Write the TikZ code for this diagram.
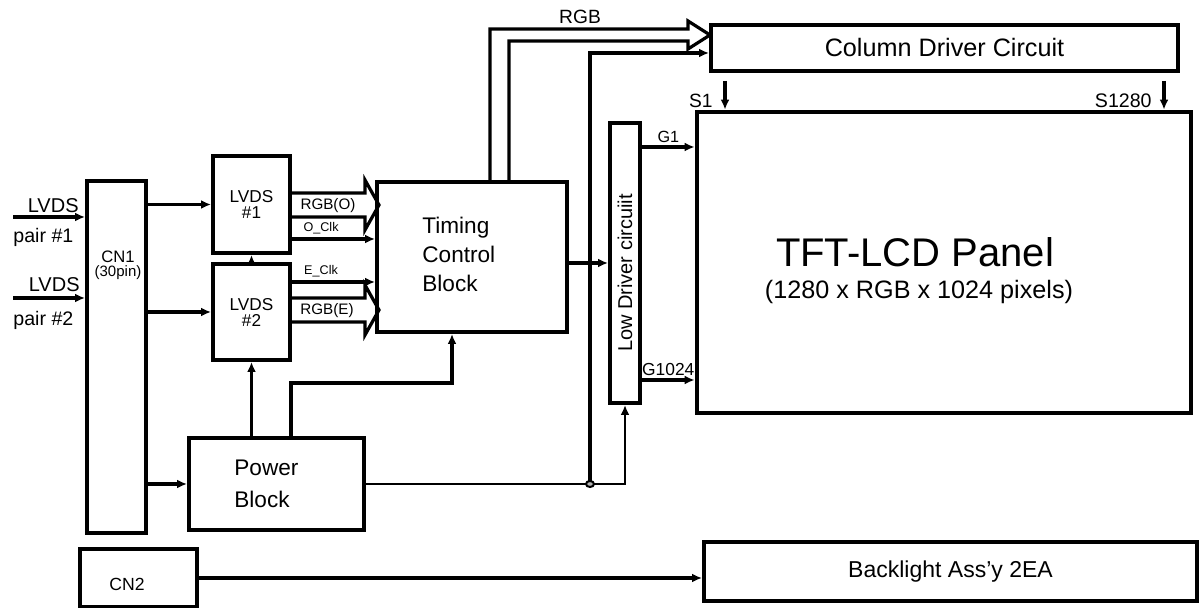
\documentclass[tikz,border=0pt]{standalone}
\usepackage{fontspec}
\setmainfont{Liberation Sans}
\usetikzlibrary{arrows.meta}

\begin{document}
\begin{tikzpicture}[x=0.5pt,y=-0.5pt,
  blk/.style={draw,line width=2pt,inner sep=0pt},
  wire/.style={line width=1.6pt,-{Latex[length=5pt,width=4.5pt]}},
  thinwire/.style={line width=1.1pt,-{Latex[length=5pt,width=4.5pt]}},
  bus/.style={line width=1.6pt,line join=miter},
  lbl/.style={inner sep=0pt}]
  \useasboundingbox (0,0) rectangle (1199,608);
  \node[blk,minimum width=29.5pt,minimum height=176pt] (cn1) at (116.5,357) {};
  \node[blk,minimum width=38.5pt,minimum height=48.5pt,align=center,font=\fontsize{8.6}{8}\selectfont] (lvdsA) at (251.5,204.5) {LVDS\\\#1};
  \node[blk,minimum width=38.5pt,minimum height=48pt,align=center,font=\fontsize{8.6}{8}\selectfont] (lvdsB) at (251.5,312) {LVDS\\\#2};
  \node[blk,minimum width=95pt,minimum height=75pt] (tcon) at (472,257) {};
  \node[blk,minimum width=87.5pt,minimum height=46pt] (power) at (276.5,484) {};
  \node[blk,minimum width=58.5pt,minimum height=29pt] (cn2) at (138.5,578) {};
  \node[blk,minimum width=233.5pt,minimum height=23pt,font=\fontsize{12.6}{14}\selectfont] (coldrv) at (944.5,48) {Column Driver Circuit};
  \node[blk,minimum width=15pt,minimum height=140pt] (lowdrv) at (625,263) {};
  \node[blk,line width=2.4pt,minimum width=247pt,minimum height=150.5pt] (panel) at (944,262.5) {};
  \node[blk,minimum width=246.5pt,minimum height=29.5pt,font=\fontsize{11.5}{13}\selectfont] (blu) at (950.5,571.5) {Backlight Ass'y 2EA};

  \node[lbl,font=\fontsize{8.3}{9}\selectfont] (cn1name) at (118,257) {CN1};
  \node[lbl,font=\fontsize{7.5}{8}\selectfont] (cn1pins) at (118,273) {(30pin)};
  \node[lbl,anchor=west,align=left,font=\fontsize{11.3}{14.5}\selectfont] (tcontxt) at (422,254) {Timing\\Control\\Block};
  \node[lbl,anchor=west,align=left,font=\fontsize{11.3}{16}\selectfont] (powertxt) at (234,484) {Power\\Block};
  \node[lbl,font=\fontsize{8.8}{10}\selectfont] (cn2txt) at (127,584) {CN2};
  \node[lbl,rotate=90,font=\fontsize{10}{12}\selectfont] (lowtxt) at (625,273) {Low Driver circuiit};
  \node[lbl,font=\fontsize{20}{24}\selectfont] (paneltitle) at (915,252) {TFT-LCD Panel};
  \node[lbl,font=\fontsize{12.6}{15}\selectfont] (panelres) at (919,292) {(1280 x RGB x 1024 pixels)};

  \coordinate (inA) at (13,217); \coordinate (inB) at (13,298);
  \draw[wire] (inA) -- (inA -| cn1.west); \draw[wire] (inB) -- (inB -| cn1.west);
  \node[lbl,anchor=base east,font=\fontsize{10}{12}\selectfont] (inAname) at (79,213) {LVDS};
  \node[lbl,anchor=base west,font=\fontsize{9.8}{12}\selectfont] (inApair) at (13,243) {pair \#1};
  \node[lbl,anchor=base east,font=\fontsize{10}{12}\selectfont] (inBname) at (80,292) {LVDS};
  \node[lbl,anchor=base west,font=\fontsize{9.8}{12}\selectfont] (inBpair) at (13,326) {pair \#2};

  \draw[wire] (cn1.east |- lvdsA.west) -- (lvdsA.west);
  \draw[wire] (cn1.east |- lvdsB.west) -- (lvdsB.west);
  \draw[wire] (cn1.east |- power.west) -- (power.west);
  \draw[wire] (lvdsB.north) -- (lvdsA.south);
  \draw[wire] (lvdsB.south |- power.north) -- (lvdsB.south);
  \draw[wire] ([xshift=7.25pt]power.north) -- ++(0,-53) -| ([xshift=-10pt]tcon.south);

  \draw[bus] ([yshift=5.75pt]lvdsA.east) -- ++(73,0) -- ++(0,-13) -- ++(14,25) -- ++(-14,25) -- ++(0,-13) -- ++(-73,0);
  \draw[bus] ([yshift=7pt]lvdsB.east) -- ++(73,0) -- ++(0,-13) -- ++(14,25) -- ++(-14,25) -- ++(0,-13) -- ++(-73,0);
  \node[lbl,font=\fontsize{7.6}{9}\selectfont] (rgbo) at (328,206) {RGB(O)};
  \node[lbl,font=\fontsize{7.6}{9}\selectfont] (rgbe) at (327,311) {RGB(E)};
  \coordinate (oclk) at ([yshift=-17.25pt]lvdsA.east); \coordinate (eclk) at ([yshift=15pt]lvdsB.east);
  \draw[wire] (oclk) -- (oclk -| tcon.west) node[lbl,pos=0.35,above=1.5pt,font=\fontsize{6.3}{8}\selectfont] {O\_Clk};
  \draw[wire] (eclk) -- (eclk -| tcon.west) node[lbl,pos=0.35,above=1.5pt,font=\fontsize{6.3}{8}\selectfont] {E\_Clk};

  \draw[wire] (tcon.east |- lowdrv.west) -- (lowdrv.west);
  \draw[bus] ([xshift=9pt]tcon.north) -- ++(0,-151) -- ++(198,0) -- ++(0,-8) -- ++(22,14) -- ++(-22,14) -- ++(0,-8) -- ++(-179,0) -- ++(0,139);
  \node[lbl,font=\fontsize{9.6}{11}\selectfont] (rgbtop) at (580,17) {RGB};

  \coordinate (jn) at ([xshift=112pt]power.east);
  \draw[thinwire] (power.east) -| (lowdrv.south);
  \draw[wire] (jn) |- ([yshift=-2.5pt]coldrv.west);
  \draw[line width=1pt,fill=gray!60] (jn) ellipse (4 and 3);

  \coordinate (g1) at ([yshift=58pt]lowdrv.east); \coordinate (gn) at ([yshift=-58.5pt]lowdrv.east);
  \draw[wire] (g1) -- (g1 -| panel.west) node[lbl,midway,above=1.5pt,font=\fontsize{8.1}{9}\selectfont] {G1};
  \draw[wire] (gn) -- (gn -| panel.west) node[lbl,midway,above=1.5pt,font=\fontsize{8.7}{9}\selectfont] {G1024};
  \coordinate (s1) at ([xshift=8pt,yshift=-4pt]coldrv.south west); \coordinate (sn) at ([xshift=-8pt,yshift=-4pt]coldrv.south east);
  \draw[wire] (s1) -- (s1 |- panel.north); \draw[wire] (sn) -- (sn |- panel.north);
  \node[lbl,anchor=base east,font=\fontsize{9.6}{11}\selectfont] (s1name) at (713,108) {S1};
  \node[lbl,anchor=base east,font=\fontsize{9.8}{11}\selectfont] (snname) at (1152,108) {S1280};

  \draw[wire] (cn2.east) -- (cn2.east -| blu.west);
\end{tikzpicture}
\end{document}
